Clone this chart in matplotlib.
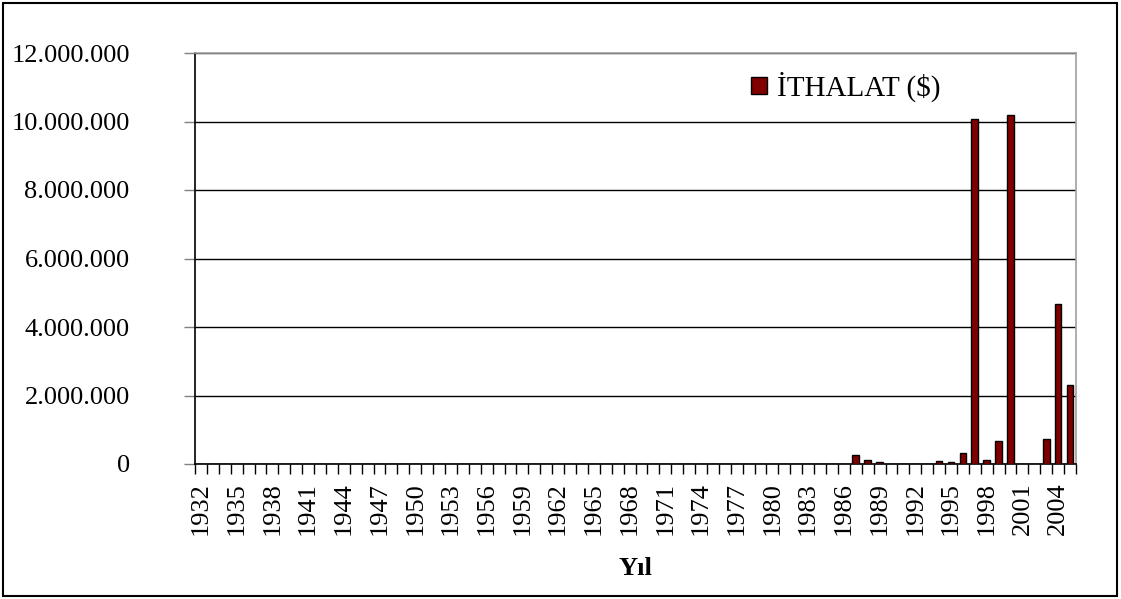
import matplotlib

matplotlib.use("Agg")
import matplotlib.pyplot as plt
import numpy as np
from matplotlib.patches import Patch, Rectangle
from matplotlib.ticker import FuncFormatter

years = list(range(1932, 2006))
imports_usd = [
    0, 0, 0, 0, 0, 0, 0, 0, 0, 0,  # 1932-1941
    0, 0, 0, 0, 0, 0, 0, 0, 0, 0,  # 1942-1951
    0, 0, 0, 0, 0, 0, 0, 0, 0, 0,  # 1952-1961
    0, 0, 0, 0, 0, 0, 0, 0, 0, 0,  # 1962-1971
    0, 0, 0, 0, 0, 0, 0, 0, 0, 0,  # 1972-1981
    0, 0, 0, 0, 0,                 # 1982-1986
    270000, 110000, 50000, 0, 0,   # 1987-1991
    0, 0, 100000, 50000, 330000,   # 1992-1996
    10070000, 110000, 680000, 10180000, 0,  # 1997-2001
    0, 720000, 4660000, 2300000,   # 2002-2005
]
series_label = "İTHALAT ($)"
x_title = "Yıl"
y_ticks = [0, 2000000, 4000000, 6000000, 8000000, 10000000, 12000000]

bar_color = "#800000"
font = ["Liberation Serif", "DejaVu Serif"]
plt.rcParams["font.family"] = font
fsize = 19

fig = plt.figure(figsize=(11.21, 5.99), dpi=100)
ax = fig.add_axes([195 / 1121, 1 - 464 / 599, (1076 - 195) / 1121, (464 - 53) / 599])

x = np.arange(len(years))
ax.bar(x, imports_usd, width=0.56, color=bar_color, edgecolor="black", linewidth=1.0, zorder=3)

ax.set_xlim(-0.5, len(years) - 0.5)
ax.set_ylim(0, 12000000)
ax.set_yticks(y_ticks)
ax.yaxis.set_major_formatter(FuncFormatter(lambda v, _: f"{int(v):,}".replace(",", ".")))
ax.tick_params(axis="y", length=8, width=1, color="#808080", pad=39, labelsize=fsize)
ax.grid(axis="y", color="black", linewidth=1.0, zorder=1)

ax.set_xticks(x[::3])
ax.set_xticklabels([str(y) for y in years[::3]], rotation=90, fontsize=fsize)
ax.set_xticks(np.arange(-0.5, len(years)), minor=True)
ax.tick_params(axis="x", which="major", length=0, pad=13)
ax.tick_params(axis="x", which="minor", length=7, width=1, color="black")

ax.spines["left"].set_color("black")
ax.spines["bottom"].set_color("black")
ax.spines["top"].set_color("#a0a0a0")
ax.spines["right"].set_color("#a0a0a0")
for s in ax.spines.values():
    s.set_linewidth(1.2)

ax.set_xlabel(x_title, fontsize=fsize, fontweight="bold", labelpad=16)

handle = Patch(facecolor=bar_color, edgecolor="black", linewidth=1.0)
fig.legend(
    [handle],
    [series_label],
    loc="center left",
    bbox_to_anchor=(751 / 1121, 1 - 87 / 599),
    frameon=False,
    fontsize=21,
    handlelength=0.55,
    handleheight=0.55,
    handletextpad=0.35,
    borderpad=0,
    borderaxespad=0,
)

fig.patches.append(
    Rectangle((3 / 1121, 3 / 599), 1114 / 1121, 593 / 599, transform=fig.transFigure,
              fill=False, edgecolor="black", linewidth=1.5)
)

fig.savefig("out.png", dpi=100, facecolor="white")
